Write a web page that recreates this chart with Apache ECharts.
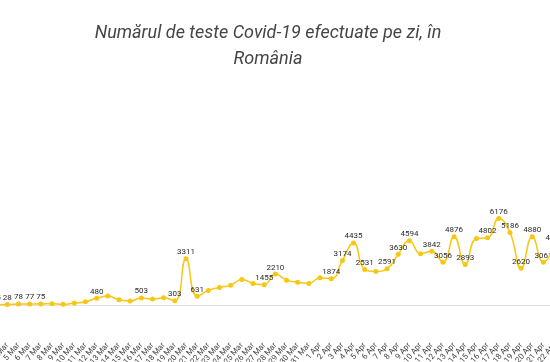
<!DOCTYPE html>
<html>
<head>
<meta charset="utf-8">
<script src="https://cdn.jsdelivr.net/npm/echarts@6/dist/echarts.min.js"></script>
<style>
html,body{margin:0;padding:0;background:#fff;}
#chart{width:550px;height:362px;}
</style>
</head>
<body>
<div id="chart"></div>
<script>
const titleText = 'Numărul de teste Covid-19 efectuate pe zi, în\nRomânia';

const dates = [
  '3 Mar','4 Mar','5 Mar','6 Mar','7 Mar','8 Mar','9 Mar','10 Mar','11 Mar','12 Mar',
  '13 Mar','14 Mar','15 Mar','16 Mar','17 Mar','18 Mar','19 Mar','20 Mar','21 Mar','22 Mar',
  '23 Mar','24 Mar','25 Mar','26 Mar','27 Mar','28 Mar','29 Mar','30 Mar','31 Mar',
  '1 Apr','2 Apr','3 Apr','4 Apr','5 Apr','6 Apr','7 Apr','8 Apr','9 Apr','10 Apr',
  '11 Apr','12 Apr','13 Apr','14 Apr','15 Apr','16 Apr','17 Apr','18 Apr','19 Apr','20 Apr',
  '21 Apr','22 Apr'
];

const tests = [
  15, 28, 78, 77, 75, 93, 45, 135, 235, 480,
  635, 378, 280, 503, 420, 520, 303, 3311, 631, 1041,
  1255, 1419, 1825, 1540, 1455, 2210, 1775, 1633, 1540,
  1946, 1874, 3174, 4435, 2531, 2396, 2591, 3630, 4594, 3658,
  3842, 3056, 4876, 2893, 4749, 4802, 6176, 5186, 2620, 4880,
  3061, 4300
];

const labelledDates = [
  '3 Mar','4 Mar','5 Mar','6 Mar','7 Mar','12 Mar','16 Mar','19 Mar','20 Mar','21 Mar',
  '27 Mar','28 Mar','2 Apr','3 Apr','4 Apr','5 Apr','7 Apr','8 Apr','9 Apr','11 Apr',
  '12 Apr','13 Apr','14 Apr','16 Apr','17 Apr','18 Apr','19 Apr','20 Apr','21 Apr','22 Apr'
];

const yMin = 0;
const yMax = 16000;

const lineColor = '#F7C712';

const chart = echarts.init(document.getElementById('chart'), null, {renderer: 'canvas'});

const seriesData = tests.map((v, i) => ({
  value: v,
  label: { show: labelledDates.indexOf(dates[i]) >= 0 }
}));

chart.setOption({
  backgroundColor: '#ffffff',
  animation: false,
  title: {
    text: titleText,
    left: 263,
    top: 15,
    textAlign: 'center',
    textStyle: {
      fontFamily: 'Roboto',
      fontStyle: 'italic',
      fontWeight: 'normal',
      fontSize: 18,
      lineHeight: 26,
      color: '#454545'
    }
  },
  grid: {
    left: -9.45,
    right: -10.2,
    top: 81,
    bottom: 57,
    containLabel: false,
    outerBoundsMode: 'none'
  },
  xAxis: {
    type: 'category',
    data: dates,
    boundaryGap: true,
    axisLine: { show: true, lineStyle: { color: '#e3e3e3', width: 1 } },
    axisTick: { show: false },
    axisLabel: {
      interval: 0,
      rotate: 50,
      margin: 39,
      fontFamily: 'Roboto',
      fontSize: 8,
      color: '#444'
    },
    splitLine: { show: false }
  },
  yAxis: {
    type: 'value',
    min: yMin,
    max: yMax,
    show: false,
    splitLine: { show: false }
  },
  series: [{
    type: 'line',
    data: seriesData,
    smooth: true,
    symbol: 'circle',
    symbolSize: 5,
    showAllSymbol: true,
    lineStyle: { color: lineColor, width: 1.5 },
    itemStyle: { color: lineColor },
    label: {
      position: 'top',
      distance: 0,
      offset: [0, 3],
      fontFamily: 'Roboto',
      fontSize: 8,
      color: '#2a2a2a'
    },
    labelLayout: { hideOverlap: false }
  }]
});
</script>
</body>
</html>
